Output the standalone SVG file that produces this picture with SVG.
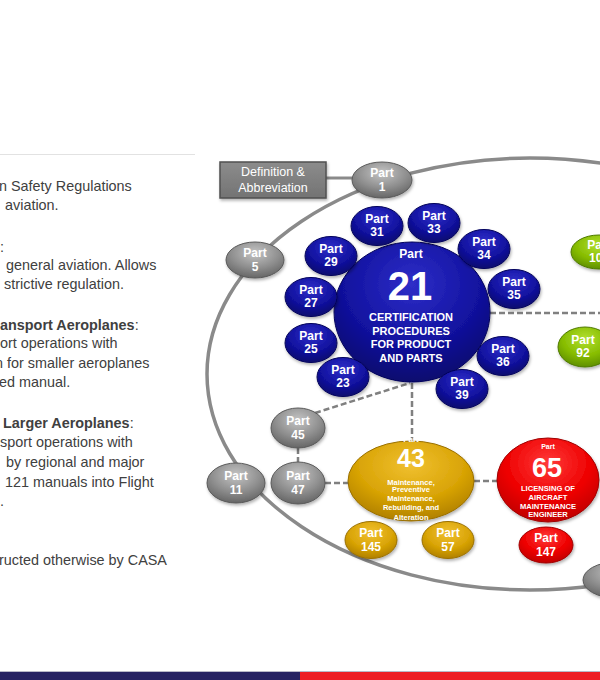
<svg xmlns="http://www.w3.org/2000/svg" width="600" height="680" viewBox="0 0 600 680">
<defs>
<radialGradient id="gGray" cx="50%" cy="30%" r="70%">
<stop offset="0" stop-color="#c4c4c4"/><stop offset="0.6" stop-color="#8e8e8e"/><stop offset="1" stop-color="#666"/>
</radialGradient>
<radialGradient id="gBlue" cx="50%" cy="30%" r="70%">
<stop offset="0" stop-color="#2e2ec8"/><stop offset="0.6" stop-color="#1212a0"/><stop offset="1" stop-color="#08086e"/>
</radialGradient>
<radialGradient id="gGold" cx="50%" cy="30%" r="70%">
<stop offset="0" stop-color="#f0c030"/><stop offset="0.6" stop-color="#d9a406"/><stop offset="1" stop-color="#b08000"/>
</radialGradient>
<radialGradient id="gRed" cx="50%" cy="30%" r="70%">
<stop offset="0" stop-color="#ff3a3a"/><stop offset="0.6" stop-color="#ee0000"/><stop offset="1" stop-color="#c00000"/>
</radialGradient>
<radialGradient id="gGreen" cx="50%" cy="30%" r="70%">
<stop offset="0" stop-color="#b2e030"/><stop offset="0.6" stop-color="#86bc00"/><stop offset="1" stop-color="#5f8f00"/>
</radialGradient>
<linearGradient id="gBox" x1="0" y1="0" x2="0" y2="1">
<stop offset="0" stop-color="#8c8c8c"/><stop offset="1" stop-color="#737373"/>
</linearGradient>
<filter id="sh" x="-20%" y="-20%" width="140%" height="150%">
<feDropShadow dx="1" dy="2" stdDeviation="1.5" flood-color="#000" flood-opacity="0.3"/>
</filter>
<style>
.body{font-family:"Liberation Sans",Arial,sans-serif;font-size:14.4px;fill:#404040}
.b{font-weight:bold}
.nt{font-family:"Liberation Sans",Arial,sans-serif;font-weight:bold;fill:#fff;text-anchor:middle}
.s12{font-size:12px}
.gray{fill:url(#gGray);stroke:#5a5a5a;stroke-width:1;filter:url(#sh)}
.blue{fill:url(#gBlue);stroke:#06065a;stroke-width:1;filter:url(#sh)}
.gold{fill:url(#gGold);stroke:#9a7000;stroke-width:1;filter:url(#sh)}
.red{fill:url(#gRed);stroke:#a00000;stroke-width:1;filter:url(#sh)}
.green{fill:url(#gGreen);stroke:#4f7a00;stroke-width:1;filter:url(#sh)}
.dash{stroke:#808080;stroke-width:2.5;stroke-dasharray:6 3;fill:none}
</style>
</defs>
<rect width="600" height="680" fill="#fff"/>
<line x1="0" y1="154.5" x2="195" y2="154.5" stroke="#e2e2e2" stroke-width="1"/>
<g id="left-text" class="body">
<text x="-1" y="191">n Safety Regulations</text>
<text x="5" y="210">aviation.</text>
<text x="0" y="252">:</text>
<text x="6" y="270">general aviation. Allows</text>
<text x="4" y="289">strictive regulation.</text>
<text x="0" y="330"><tspan class="b">ansport Aeroplanes</tspan>:</text>
<text x="0" y="348">ort operations with</text>
<text x="-5" y="368">n for smaller aeroplanes</text>
<text x="-1" y="387">ed manual.</text>
<text x="3" y="428"><tspan class="b">Larger Aeroplanes</tspan>:</text>
<text x="0" y="447">sport operations with</text>
<text x="6" y="467">by regional and major</text>
<text x="5" y="487">121 manuals into Flight</text>
<text x="0" y="506">.</text>
<text x="-1" y="565">ructed otherwise by CASA</text>
</g>
<ellipse id="boundary" cx="530" cy="374" rx="323" ry="216" fill="none" stroke="#8a8a8a" stroke-width="3.5"/>
<g id="connectors">
<line x1="326" y1="178" x2="354" y2="178" stroke="#8a8a8a" stroke-width="3"/>
<line class="dash" x1="490" y1="313" x2="600" y2="313"/>
<line class="dash" x1="412" y1="383" x2="412" y2="442"/>
<line class="dash" x1="315" y1="413" x2="410" y2="383"/>
<line class="dash" x1="298" y1="448" x2="298" y2="462"/>
<line class="dash" x1="325" y1="483" x2="349" y2="483"/>
<line class="dash" x1="474" y1="481" x2="498" y2="481"/>
</g>
<g id="def-box">
<rect x="220" y="162" width="106" height="36" fill="url(#gBox)" stroke="#505050" stroke-width="1.5" filter="url(#sh)"/>
<text class="nt" x="273" y="176" style="font-weight:normal;font-size:12.5px">Definition &amp;</text>
<text class="nt" x="273" y="192" style="font-weight:normal;font-size:12.5px">Abbreviation</text>
</g>
<g id="part1"><ellipse class="gray" cx="382" cy="180" rx="30" ry="18"/><text class="nt s12" x="382" y="177">Part</text><text class="nt s12" x="382" y="191">1</text></g>
<g id="part5"><ellipse class="gray" cx="255" cy="260" rx="29" ry="18"/><text class="nt s12" x="255" y="257">Part</text><text class="nt s12" x="255" y="271">5</text></g>
<g id="part45"><ellipse class="gray" cx="298" cy="428" rx="27" ry="20"/><text class="nt s12" x="298" y="425">Part</text><text class="nt s12" x="298" y="439">45</text></g>
<g id="part47"><ellipse class="gray" cx="298" cy="483" rx="27" ry="21"/><text class="nt s12" x="298" y="480">Part</text><text class="nt s12" x="298" y="494">47</text></g>
<g id="part11"><ellipse class="gray" cx="236" cy="483" rx="29" ry="20"/><text class="nt s12" x="236" y="480">Part</text><text class="nt s12" x="236" y="494">11</text></g>
<g id="part-gray-br"><ellipse class="gray" cx="616" cy="580" rx="33" ry="18"/></g>
<g id="part21">
<ellipse class="blue" cx="412" cy="312" rx="78" ry="70"/>
<text class="nt s12" x="411" y="258">Part</text>
<text class="nt" x="410" y="300" style="font-size:40px">21</text>
<text class="nt" x="411" y="321" style="font-size:11px">CERTIFICATION</text>
<text class="nt" x="411" y="335" style="font-size:11px">PROCEDURES</text>
<text class="nt" x="411" y="348" style="font-size:11px">FOR PRODUCT</text>
<text class="nt" x="411" y="362" style="font-size:11px">AND PARTS</text>
</g>
<g id="part31"><ellipse class="blue" cx="377" cy="226" rx="26" ry="19.5"/><text class="nt s12" x="377" y="223">Part</text><text class="nt s12" x="377" y="236">31</text></g>
<g id="part33"><ellipse class="blue" cx="434" cy="223" rx="26" ry="19.5"/><text class="nt s12" x="434" y="220">Part</text><text class="nt s12" x="434" y="233">33</text></g>
<g id="part34"><ellipse class="blue" cx="484" cy="249" rx="26" ry="19.5"/><text class="nt s12" x="484" y="246">Part</text><text class="nt s12" x="484" y="259">34</text></g>
<g id="part35"><ellipse class="blue" cx="514" cy="289" rx="26" ry="19.5"/><text class="nt s12" x="514" y="286">Part</text><text class="nt s12" x="514" y="299">35</text></g>
<g id="part29"><ellipse class="blue" cx="331" cy="256" rx="26" ry="19.5"/><text class="nt s12" x="331" y="253">Part</text><text class="nt s12" x="331" y="266">29</text></g>
<g id="part27"><ellipse class="blue" cx="311" cy="297" rx="26" ry="19.5"/><text class="nt s12" x="311" y="294">Part</text><text class="nt s12" x="311" y="307">27</text></g>
<g id="part25"><ellipse class="blue" cx="311" cy="343" rx="26" ry="19.5"/><text class="nt s12" x="311" y="340">Part</text><text class="nt s12" x="311" y="353">25</text></g>
<g id="part23"><ellipse class="blue" cx="343" cy="377" rx="26" ry="19.5"/><text class="nt s12" x="343" y="374">Part</text><text class="nt s12" x="343" y="387">23</text></g>
<g id="part36"><ellipse class="blue" cx="503" cy="356" rx="26" ry="19.5"/><text class="nt s12" x="503" y="353">Part</text><text class="nt s12" x="503" y="366">36</text></g>
<g id="part39"><ellipse class="blue" cx="462" cy="389" rx="26" ry="19.5"/><text class="nt s12" x="462" y="386">Part</text><text class="nt s12" x="462" y="399">39</text></g>
<g id="part43">
<ellipse class="gold" cx="411" cy="481" rx="63" ry="40"/>
<text class="nt" x="411" y="442" style="font-size:8px">Part</text>
<text class="nt" x="411" y="467" style="font-size:25px">43</text>
<text class="nt" x="411" y="484.5" style="font-size:7.5px">Maintenance,</text>
<text class="nt" x="411" y="492" style="font-size:7.5px">Preventive</text>
<text class="nt" x="411" y="501" style="font-size:7.5px">Maintenance,</text>
<text class="nt" x="411" y="510" style="font-size:7.5px">Rebuilding, and</text>
<text class="nt" x="411" y="519.5" style="font-size:7.5px">Alteration</text>
</g>
<g id="part145"><ellipse class="gold" cx="371" cy="540" rx="26" ry="18.5"/><text class="nt s12" x="371" y="537">Part</text><text class="nt s12" x="371" y="551">145</text></g>
<g id="part57"><ellipse class="gold" cx="448" cy="540" rx="26" ry="18.5"/><text class="nt s12" x="448" y="537">Part</text><text class="nt s12" x="448" y="551">57</text></g>
<g id="part65">
<ellipse class="red" cx="548" cy="480" rx="51" ry="42"/>
<text class="nt" x="548" y="449" style="font-size:7px">Part</text>
<text class="nt" x="547" y="477" style="font-size:27px">65</text>
<text class="nt" x="548" y="491" style="font-size:7.6px">LICENSING OF</text>
<text class="nt" x="548" y="500" style="font-size:7.6px">AIRCRAFT</text>
<text class="nt" x="548" y="508.5" style="font-size:7.6px">MAINTENANCE</text>
<text class="nt" x="548" y="517" style="font-size:7.6px">ENGINEER</text>
</g>
<g id="part147"><ellipse class="red" cx="546" cy="545" rx="27" ry="18"/><text class="nt s12" x="546" y="542">Part</text><text class="nt s12" x="546" y="556">147</text></g>
<g id="part101"><ellipse class="green" cx="599" cy="252" rx="28" ry="17"/><text class="nt s12" x="599" y="249">Part</text><text class="nt s12" x="599" y="262">101</text></g>
<g id="part92"><ellipse class="green" cx="585" cy="347" rx="27" ry="20"/><text class="nt s12" x="583" y="344">Part</text><text class="nt s12" x="583" y="357">92</text></g>
<g id="footer">
<rect x="0" y="671" width="600" height="1" fill="#b8b8c8"/>
<rect x="0" y="672" width="300" height="8" fill="#262262"/>
<rect x="300" y="672" width="300" height="8" fill="#ed1c24"/>
</g>
</svg>
